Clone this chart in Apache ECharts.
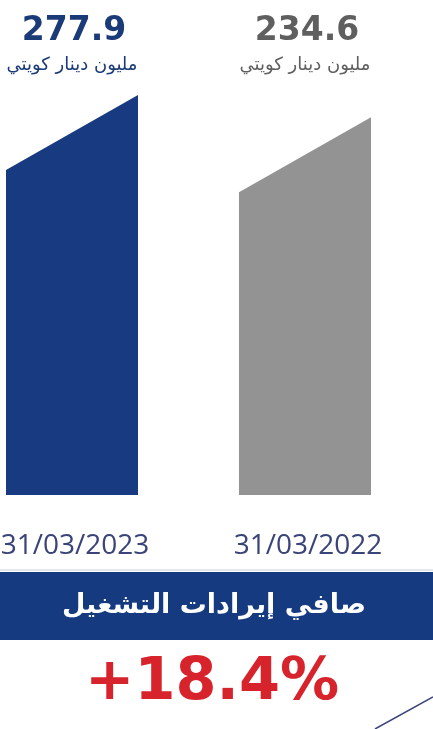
<!DOCTYPE html>
<html><head><meta charset="utf-8">
<script src="https://cdn.jsdelivr.net/npm/echarts@6/dist/echarts.min.js"></script>
<style>html,body{margin:0;padding:0;background:#fff;}#c{width:433px;height:729px;}</style>
</head><body><div id="c"></div>
<script>
const categories = ['31/03/2023', '31/03/2022'];
const values = [277.9, 234.6];
const valueLabels = ['277.9', '234.6'];
const unitLabel = 'مليون دينار كويتي';
const titleText = 'صافي إيرادات التشغيل';
const changeText = '+18.4%';
const barColors = ['#173a80', '#939393'];
const labelColors = ['#1b3a78', '#5f5f5f'];
const yMin = -500;

const chart = echarts.init(document.getElementById('c'), null, {renderer: 'canvas'});
const HALF = 66, SLANT = 75;

chart.setOption({
  animation: false,
  backgroundColor: '#fff',
  grid: {left: 72, right: 128, top: 95, bottom: 234, containLabel: false, outerBoundsMode: 'none'},
  xAxis: {
    type: 'category', data: categories, boundaryGap: false,
    axisLine: {show: false}, axisTick: {show: false}, splitLine: {show: false},
    axisLabel: {fontSize: 28, fontFamily: 'Open Sans', color: '#3b4478', margin: 37, interval: 0, padding: [0, 0, 0, 6]}
  },
  yAxis: {type: 'value', min: yMin, max: Math.max(...values), show: false, splitLine: {show: false}},
  series: [{
    type: 'custom',
    data: values.map((v, i) => [i, v]),
    renderItem: function (params, api) {
      const i = api.value(0), v = api.value(1);
      const top = api.coord([i, v]);
      const base = api.coord([i, yMin]);
      const x = top[0];
      return {
        type: 'group',
        children: [
          {type: 'polygon', shape: {points: [[x - HALF, top[1] + SLANT], [x + HALF, top[1]], [x + HALF, base[1]], [x - HALF, base[1]]]},
           style: {fill: barColors[i]}},
          {type: 'text', x: x + 2, y: 31, style: {text: valueLabels[i], fill: labelColors[i], font: 'bold 33px "DejaVu Sans"', textAlign: 'center', textVerticalAlign: 'middle'}},
          {type: 'text', x: x, y: 65, style: {text: unitLabel, fill: labelColors[i], font: '18px "DejaVu Sans"', textAlign: 'center', textVerticalAlign: 'middle'}}
        ]
      };
    }
  }],
  graphic: [
    {type: 'line', shape: {x1: 0, y1: 570, x2: 433, y2: 570}, style: {stroke: '#c9cfe0', lineWidth: 1}},
    {type: 'rect', shape: {x: 0, y: 572, width: 433, height: 68}, style: {fill: '#163a80'}},
    {type: 'text', x: 214, y: 606, style: {text: titleText, fill: '#fff', font: 'bold 27px "DejaVu Sans"', textAlign: 'center', textVerticalAlign: 'middle'}},
    {type: 'text', x: 212, y: 684, style: {text: changeText, fill: '#d7232b', font: 'bold 59px "DejaVu Sans"', textAlign: 'center', textVerticalAlign: 'middle'}},
    {type: 'line', shape: {x1: 375, y1: 729, x2: 433, y2: 697}, style: {stroke: '#3b4478', lineWidth: 1.5}}
  ]
});
</script></body></html>
